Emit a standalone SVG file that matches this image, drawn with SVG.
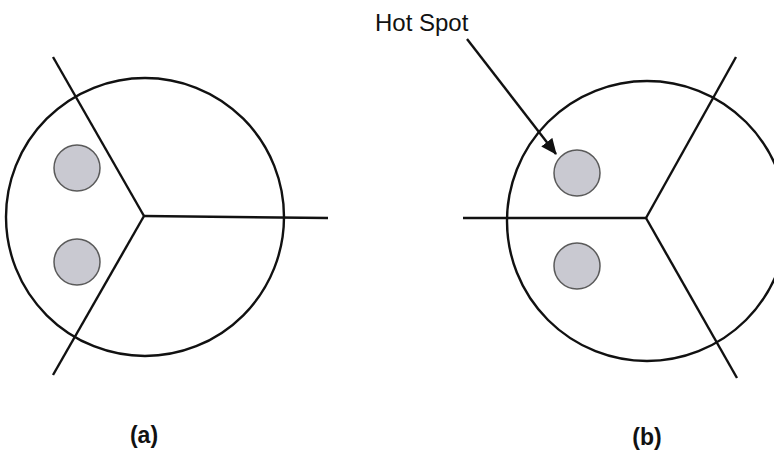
<svg xmlns="http://www.w3.org/2000/svg" width="774" height="455" viewBox="0 0 774 455">
<style>
.big{fill:none;stroke:#111;stroke-width:2.4}
.ln{stroke:#111;stroke-width:2.4;fill:none}
.spot{fill:#c9c9d1;stroke:#5a5a5a;stroke-width:1.5}
.t{font-family:"Liberation Sans",Arial,sans-serif;fill:#111}
</style>
<defs>
<marker id="ah" markerWidth="16" markerHeight="14" refX="15" refY="7" orient="auto" markerUnits="userSpaceOnUse" viewBox="0 0 16 14">
<path d="M0,0 L16,7 L0,14 z" fill="#111"/>
</marker>
</defs>
<rect width="774" height="455" fill="#fff"/>
<g id="diagram-a">
<circle class="big" cx="145" cy="217" r="139"/>
<line class="ln" x1="144" y1="216" x2="53" y2="57"/>
<line class="ln" x1="144" y1="216" x2="53" y2="375"/>
<line class="ln" x1="144" y1="216" x2="328" y2="218"/>
<circle class="spot" cx="77" cy="168" r="23"/>
<circle class="spot" cx="77" cy="262" r="23"/>
<text class="t" x="144" y="443" font-size="23" font-weight="bold" text-anchor="middle">(a)</text>
</g>
<g id="diagram-b">
<circle class="big" cx="647" cy="221" r="140"/>
<line class="ln" x1="646" y1="218" x2="463" y2="218"/>
<line class="ln" x1="646" y1="218" x2="736" y2="57"/>
<line class="ln" x1="646" y1="218" x2="737" y2="378"/>
<circle class="spot" cx="577" cy="173" r="23"/>
<circle class="spot" cx="577" cy="266" r="23"/>
<text class="t" x="647" y="445" font-size="23" font-weight="bold" text-anchor="middle">(b)</text>
</g>
<g id="hotspot-label">
<text class="t" x="375" y="31" font-size="24">Hot Spot</text>
</g>
<g id="connectors">
<line class="ln" x1="467" y1="39" x2="556" y2="154" marker-end="url(#ah)" stroke-width="2.6"/>
</g>
</svg>
